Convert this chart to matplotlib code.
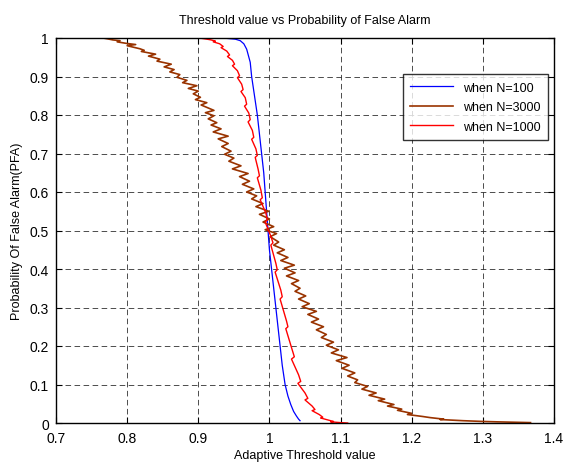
import matplotlib
matplotlib.use("Agg")
import matplotlib.pyplot as plt

plt.rcParams['font.family'] = ['Liberation Sans', 'DejaVu Sans']
plt.rcParams['lines.scale_dashes'] = False

# N=100 (blue)
blue_x = [0.900, 0.940, 0.952, 0.959, 0.964, 0.968, 0.973, 0.975, 0.979, 0.983, 0.986, 0.989,
          0.992, 0.994, 0.996, 0.998, 1.000, 1.003, 1.006, 1.009, 1.012, 1.015, 1.018, 1.022,
          1.026, 1.030, 1.034, 1.038, 1.041, 1.043]
blue_p = [1.000, 0.999, 0.997, 0.993, 0.985, 0.971, 0.937, 0.900, 0.850, 0.800, 0.750, 0.700,
          0.650, 0.600, 0.550, 0.500, 0.450, 0.400, 0.350, 0.300, 0.250, 0.200, 0.150, 0.100,
          0.070, 0.048, 0.030, 0.018, 0.010, 0.006]

# N=3000 (brown)
brown_x = [0.700, 0.766, 0.772, 0.780, 0.790, 0.786, 0.799, 0.812, 0.800, 0.818, 0.824, 0.820,
           0.840, 0.830, 0.846, 0.842, 0.862, 0.852, 0.866, 0.860, 0.874, 0.870, 0.884, 0.878,
           0.898, 0.886, 0.900, 0.893, 0.903, 0.896, 0.912, 0.904, 0.922, 0.910, 0.922, 0.914,
           0.926, 0.918, 0.932, 0.921, 0.942, 0.928, 0.942, 0.933, 0.946, 0.937, 0.950, 0.943,
           0.960, 0.948, 0.970, 0.958, 0.972, 0.962, 0.978, 0.968, 0.982, 0.975, 0.991, 0.981,
           0.999, 0.986, 1.000, 0.991, 1.006, 0.994, 1.010, 1.001, 1.013, 1.006, 1.021, 1.011,
           1.026, 1.016, 1.035, 1.021, 1.036, 1.024, 1.041, 1.031, 1.043, 1.036, 1.051, 1.041,
           1.056, 1.046, 1.066, 1.054, 1.069, 1.059, 1.076, 1.066, 1.080, 1.073, 1.090, 1.080,
           1.097, 1.087, 1.109, 1.094, 1.112, 1.102, 1.120, 1.110, 1.124, 1.120, 1.138, 1.130,
           1.150, 1.140, 1.162, 1.153, 1.175, 1.166, 1.186, 1.180, 1.200, 1.194, 1.215, 1.226,
           1.245, 1.240, 1.272, 1.300, 1.320, 1.367]
brown_p = [1.000, 1.000, 0.998, 0.995, 0.993, 0.990, 0.986, 0.983, 0.980, 0.972, 0.968, 0.965,
           0.958, 0.953, 0.945, 0.940, 0.932, 0.925, 0.918, 0.912, 0.905, 0.898, 0.890, 0.884,
           0.876, 0.869, 0.862, 0.855, 0.846, 0.840, 0.832, 0.826, 0.812, 0.806, 0.798, 0.790,
           0.780, 0.774, 0.764, 0.756, 0.745, 0.738, 0.726, 0.718, 0.706, 0.698, 0.688, 0.680,
           0.668, 0.660, 0.648, 0.640, 0.628, 0.620, 0.608, 0.600, 0.590, 0.582, 0.570, 0.562,
           0.550, 0.542, 0.530, 0.522, 0.510, 0.502, 0.492, 0.484, 0.470, 0.462, 0.450, 0.442,
           0.430, 0.422, 0.410, 0.402, 0.390, 0.382, 0.370, 0.362, 0.350, 0.342, 0.330, 0.322,
           0.310, 0.302, 0.290, 0.282, 0.270, 0.262, 0.250, 0.242, 0.230, 0.222, 0.210, 0.202,
           0.190, 0.182, 0.170, 0.162, 0.150, 0.142, 0.130, 0.122, 0.112, 0.105, 0.095, 0.088,
           0.078, 0.072, 0.062, 0.058, 0.048, 0.044, 0.036, 0.033, 0.025, 0.022, 0.017, 0.014,
           0.010, 0.009, 0.006, 0.004, 0.003, 0.001]

# N=1000 (red)
red_x = [0.895, 0.905, 0.912, 0.918, 0.924, 0.921, 0.930, 0.935, 0.932, 0.940, 0.944, 0.941,
         0.948, 0.951, 0.948, 0.955, 0.958, 0.955, 0.961, 0.963, 0.960, 0.966, 0.968, 0.965,
         0.971, 0.973, 0.970, 0.976, 0.978, 0.975, 0.981, 0.983, 0.980, 0.984, 0.986, 0.983,
         0.988, 0.990, 0.987, 0.995, 0.997, 0.994, 1.002, 1.005, 1.002, 1.009, 1.011, 1.008,
         1.016, 1.018, 1.015, 1.024, 1.026, 1.023, 1.032, 1.035, 1.031, 1.041, 1.044, 1.040,
         1.050, 1.054, 1.050, 1.060, 1.064, 1.060, 1.070, 1.075, 1.072, 1.082, 1.090, 1.086,
         1.100, 1.110]
red_p = [1.000, 0.999, 0.997, 0.995, 0.992, 0.990, 0.985, 0.978, 0.975, 0.966, 0.956, 0.952,
         0.942, 0.932, 0.928, 0.915, 0.902, 0.897, 0.880, 0.866, 0.861, 0.845, 0.828, 0.823,
         0.805, 0.788, 0.782, 0.760, 0.742, 0.737, 0.712, 0.695, 0.690, 0.660, 0.642, 0.637,
         0.605, 0.585, 0.580, 0.545, 0.528, 0.522, 0.485, 0.468, 0.462, 0.415, 0.398, 0.392,
         0.345, 0.328, 0.322, 0.265, 0.250, 0.245, 0.190, 0.172, 0.166, 0.125, 0.108, 0.103,
         0.078, 0.064, 0.060, 0.044, 0.035, 0.032, 0.022, 0.015, 0.013, 0.008, 0.004, 0.003,
         0.001, 0.000]

x_ticks = [0.7, 0.8, 0.9, 1.0, 1.1, 1.2, 1.3, 1.4]
x_ticklabels = ['0.7', '0.8', '0.9', '1', '1.1', '1.2', '1.3', '1.4']
y_ticks = [0, 0.1, 0.2, 0.3, 0.4, 0.5, 0.6, 0.7, 0.8, 0.9, 1.0]
y_ticklabels = ['0', '0.1', '0.2', '0.3', '0.4', '0.5', '0.6', '0.7', '0.8', '0.9', '1']

fig = plt.figure(figsize=(5.65, 4.64), dpi=100)
ax = fig.add_axes([56/565, 1-424/464, 498/565, 385/464])

ax.plot(blue_x, blue_p, color='#0000FF', lw=0.9, label='when N=100')
ax.plot(brown_x, brown_p, color='#993300', lw=1.2, label='when N=3000')
ax.plot(red_x, red_p, color='#FF0000', lw=1.0, label='when N=1000')

ax.set_xlim(0.7, 1.4)
ax.set_ylim(0, 1)
ax.set_xticks(x_ticks)
ax.set_xticklabels(x_ticklabels)
ax.set_yticks(y_ticks)
ax.set_yticklabels(y_ticklabels)
ax.tick_params(direction='in', length=4, width=0.8, top=True, right=True, labelsize=10)
ax.tick_params(axis='x', pad=6)
ax.tick_params(axis='y', pad=5)
ax.grid(True, color='#303030', linestyle=(0, (4, 2.5)), linewidth=0.6)
for s in ax.spines.values():
    s.set_linewidth(1.0)
    s.set_color('black')

ax.set_title('Threshold value vs Probability of False Alarm', fontsize=9, pad=11)
ax.set_xlabel('Adaptive Threshold value', fontsize=9, labelpad=3)
ax.set_ylabel('Probability Of False Alarm(PFA)', fontsize=9, labelpad=5)

leg = ax.legend(loc='upper right', bbox_to_anchor=(0.988, 0.906), fontsize=9,
                frameon=True, fancybox=False, shadow=False, handlelength=3.4,
                borderpad=0.6, labelspacing=0.6, borderaxespad=0)
leg.get_frame().set_edgecolor('black')
leg.get_frame().set_linewidth(1.0)

fig.savefig('out.png', dpi=100)
